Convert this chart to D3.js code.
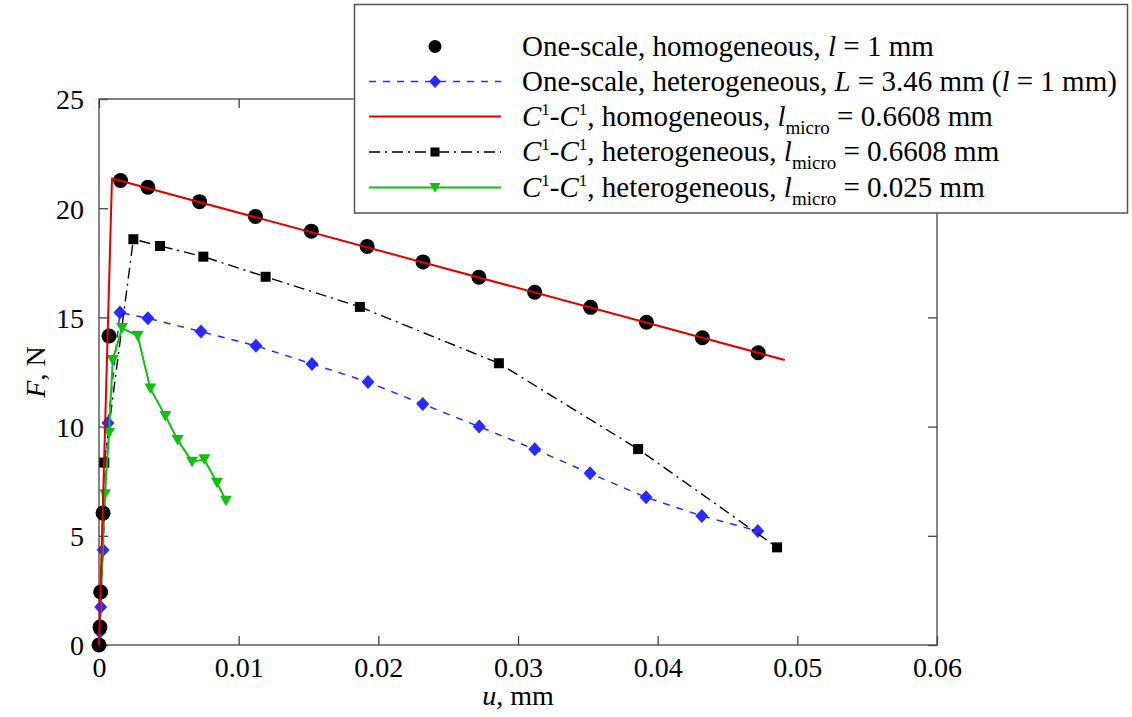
<!DOCTYPE html>
<html>
<head>
<meta charset="utf-8">
<script src="https://cdn.jsdelivr.net/npm/d3@7"></script>
<style>
  html, body { margin: 0; padding: 0; background: #fff; }
  svg { display: block; font-family: "Liberation Serif", "Times New Roman", serif; }
</style>
</head>
<body>
<svg id="chart" width="1132" height="717"></svg>
<script>
// ---- data ----
const xTicks = [0, 0.01, 0.02, 0.03, 0.04, 0.05, 0.06];
const xTickLabels = ["0", "0.01", "0.02", "0.03", "0.04", "0.05", "0.06"];
const yTicks = [0, 5, 10, 15, 20, 25];
const yTickLabels = ["0", "5", "10", "15", "20", "25"];

const oneScaleHomU = [0, 0.00007, 0.00012, 0.00029, 0.00072, 0.00154, 0.0035, 0.0072, 0.0112, 0.0152, 0.0192, 0.0232, 0.0272, 0.0312, 0.0352, 0.0392, 0.0432, 0.0472];
const oneScaleHomF = [0, 0.82, 2.43, 6.04, 14.15, 21.27, 20.96, 20.30, 19.62, 18.95, 18.25, 17.54, 16.84, 16.15, 15.46, 14.78, 14.07, 13.38];

const oneScaleHetU = [0, 0.00007, 0.00012, 0.00029, 0.00064, 0.0015, 0.0035, 0.0073, 0.01124, 0.01525, 0.01926, 0.02318, 0.02722, 0.0312, 0.03516, 0.03917, 0.04316, 0.04717];
const oneScaleHetF = [0, 0.6, 1.74, 4.35, 10.16, 15.22, 14.96, 14.35, 13.70, 12.87, 12.04, 11.03, 10.0, 8.96, 7.86, 6.76, 5.91, 5.22];

const c1HomU = [0, 0.00093, 0.0491];
const c1HomF = [0, 21.36, 13.05];

const c1HetU = [0, 0.00038, 0.00246, 0.00437, 0.00747, 0.01193, 0.01868, 0.02863, 0.0386, 0.04855];
const c1HetF = [0, 8.35, 18.58, 18.27, 17.78, 16.86, 15.48, 12.90, 8.97, 4.47];

const c1Het2U = [0, 0.00043, 0.00072, 0.00098, 0.00165, 0.00277, 0.00367, 0.00475, 0.00563, 0.00666, 0.00754, 0.00845, 0.00909];
const c1Het2F = [0, 6.90, 9.71, 13.05, 14.51, 14.16, 11.75, 10.49, 9.39, 8.39, 8.50, 7.43, 6.61];

// ---- layout ----
const svg = d3.select("#chart");
const mLeft = 99, mRight = 937, mTop = 99, mBottom = 645;
const x = d3.scaleLinear().domain([0, 0.06]).range([mLeft, mRight]);
const y = d3.scaleLinear().domain([0, 25]).range([mBottom, mTop]);

const zip = (us, fs) => us.map((u, i) => [u, fs[i]]);
const line = d3.line().x(d => x(d[0])).y(d => y(d[1]));

// frame
const g = svg.append("g");
g.append("rect").attr("x", mLeft).attr("y", mTop).attr("width", mRight - mLeft).attr("height", mBottom - mTop)
  .attr("fill", "none").attr("stroke", "#444").attr("stroke-width", 1.3);

// axes with inward ticks
const axisStyle = sel => {
  sel.select(".domain").remove();
  sel.attr("font-family", null);
  sel.selectAll(".tick line").attr("stroke", "#444").attr("stroke-width", 1.3);
};
const fs = 28;
g.append("g").attr("transform", `translate(0,${mBottom})`)
  .call(d3.axisBottom(x).tickValues(xTicks).tickFormat((d, i) => xTickLabels[i]).tickSize(-9).tickPadding(12))
  .call(axisStyle)
  .call(s => s.selectAll("text").attr("font-size", fs).attr("fill", "#000").attr("dy", "0.71em"));
g.append("g").attr("transform", `translate(0,${mTop})`)
  .call(d3.axisTop(x).tickValues(xTicks).tickFormat("").tickSize(-9))
  .call(axisStyle);
g.append("g").attr("transform", `translate(${mLeft},0)`)
  .call(d3.axisLeft(y).tickValues(yTicks).tickFormat((d, i) => yTickLabels[i]).tickSize(-9).tickPadding(15))
  .call(axisStyle)
  .call(s => s.selectAll("text").attr("font-size", fs).attr("fill", "#000").attr("dy", "0.35em"));
g.append("g").attr("transform", `translate(${mRight},0)`)
  .call(d3.axisRight(y).tickValues(yTicks).tickFormat("").tickSize(-9))
  .call(axisStyle);

// axis titles
svg.append("text").attr("x", 518).attr("y", 705).attr("text-anchor", "middle").attr("font-size", 28)
  .html('<tspan font-style="italic">u</tspan>, mm');
svg.append("text").attr("transform", "translate(45,372) rotate(-90)").attr("text-anchor", "middle").attr("font-size", 28)
  .html('<tspan font-style="italic">F</tspan>, N');

// ---- series ----
const BLUE = "#2a2aff", RED = "#e00000", GREEN = "#10c010", BLACK = "#000";
const series = [
  { key: "osh", data: zip(oneScaleHomU, oneScaleHomF), color: BLACK, line: false, marker: "circle" },
  { key: "oshet", data: zip(oneScaleHetU, oneScaleHetF), color: BLUE, line: true, dash: "7,7", width: 1.5, marker: "diamond" },
  { key: "c1hom", data: zip(c1HomU, c1HomF), color: RED, line: true, width: 2, marker: null },
  { key: "c1het", data: zip(c1HetU, c1HetF), color: BLACK, line: true, dash: "11,5,2,5", width: 1.4, marker: "square" },
  { key: "c1het2", data: zip(c1Het2U, c1Het2F), color: GREEN, line: true, width: 2, marker: "triangle" }
];

const markerPath = {
  circle: d3.symbol().type(d3.symbolCircle).size(Math.PI * 7.5 * 7.5)(),
  diamond: "M0,-7L6.5,0L0,7L-6.5,0Z",
  square: "M-5,-5L5,-5L5,5L-5,5Z",
  triangle: "M-6,-5L6,-5L0,5.5Z"
};
const legendMarkerPath = {
  circle: d3.symbol().type(d3.symbolCircle).size(Math.PI * 6.5 * 6.5)(),
  diamond: "M0,-6.5L6,0L0,6.5L-6,0Z",
  square: "M-4.5,-4.5L4.5,-4.5L4.5,4.5L-4.5,4.5Z",
  triangle: "M-5.5,-4.5L5.5,-4.5L0,5Z"
};

const drawOrder = ["oshet", "c1het", "c1het2", "osh", "c1hom"];
drawOrder.forEach(k => {
  const s = series.find(d => d.key === k);
  const gg = svg.append("g");
  if (s.line) {
    gg.append("path").attr("d", line(s.data)).attr("fill", "none").attr("stroke", s.color)
      .attr("stroke-width", s.width).attr("stroke-dasharray", s.dash || null).attr("stroke-linejoin", "round");
  }
  if (s.marker) {
    gg.selectAll("path.m").data(s.data).join("path").attr("class", "m")
      .attr("d", markerPath[s.marker])
      .attr("transform", d => `translate(${x(d[0])},${y(d[1])})`)
      .attr("fill", s.color);
  }
});

// ---- legend ----
const lg = svg.append("g");
lg.append("rect").attr("x", 354.5).attr("y", 4.5).attr("width", 773).attr("height", 208.5)
  .attr("fill", "#fff").attr("stroke", "#555").attr("stroke-width", 1.5);
const rowY = [46.5, 81.5, 116.5, 152, 187.5];
const legendOrder = ["osh", "oshet", "c1hom", "c1het", "c1het2"];
const sup = '<tspan dy="-11" font-size="17">1</tspan>';
const sub = '<tspan dy="8" font-size="19">micro</tspan>';
const legendText = [
  'One-scale, homogeneous, <tspan font-style="italic">l</tspan> = 1 mm',
  'One-scale, heterogeneous, <tspan font-style="italic">L</tspan> = 3.46 mm (<tspan font-style="italic">l</tspan> = 1 mm)',
  `<tspan font-style="italic">C</tspan>${sup}<tspan dy="11">-</tspan><tspan font-style="italic">C</tspan>${sup}<tspan dy="11">, homogeneous, </tspan><tspan font-style="italic">l</tspan>${sub}<tspan dy="-8"> = 0.6608 mm</tspan>`,
  `<tspan font-style="italic">C</tspan>${sup}<tspan dy="11">-</tspan><tspan font-style="italic">C</tspan>${sup}<tspan dy="11">, heterogeneous, </tspan><tspan font-style="italic">l</tspan>${sub}<tspan dy="-8"> = 0.6608 mm</tspan>`,
  `<tspan font-style="italic">C</tspan>${sup}<tspan dy="11">-</tspan><tspan font-style="italic">C</tspan>${sup}<tspan dy="11">, heterogeneous, </tspan><tspan font-style="italic">l</tspan>${sub}<tspan dy="-8"> = 0.025 mm</tspan>`
];
legendOrder.forEach((k, i) => {
  const s = series.find(d => d.key === k);
  const yy = rowY[i];
  if (s.line) {
    lg.append("line").attr("x1", 369).attr("x2", 501).attr("y1", yy).attr("y2", yy)
      .attr("stroke", s.color).attr("stroke-width", s.width).attr("stroke-dasharray", s.dash || null);
  }
  if (s.marker) {
    lg.append("path").attr("d", legendMarkerPath[s.marker]).attr("transform", `translate(435,${yy})`).attr("fill", s.color);
  }
  lg.append("text").attr("x", 522).attr("y", yy + 9).attr("font-size", 29).html(legendText[i]);
});
</script>
</body>
</html>
